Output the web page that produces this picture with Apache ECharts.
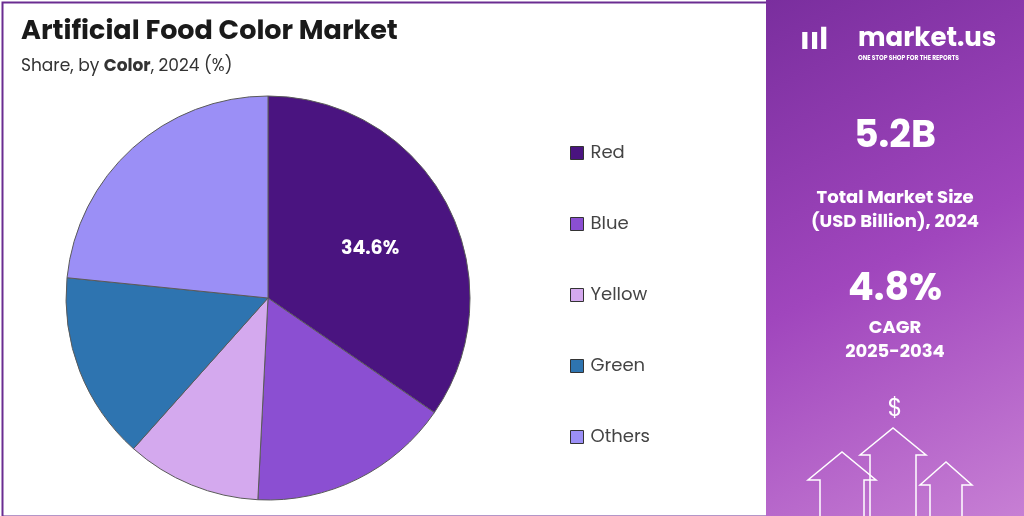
<!DOCTYPE html>
<html><head><meta charset="utf-8">
<script src="https://cdn.jsdelivr.net/npm/echarts@6/dist/echarts.min.js"></script>
<style>html,body{margin:0;padding:0;background:#fff}#c{width:1024px;height:516px}</style>
</head><body><div id="c"></div>
<script>
// 数据
const categories = ['Red', 'Blue', 'Yellow', 'Green', 'Others'];
const shares = [34.6, 16.2, 10.8, 15.0, 23.4];
const colors = ['#4a1480', '#8b4fd2', '#d4a9ee', '#2e74b0', '#9b8ff6'];

const chart = echarts.init(document.getElementById('c'));
const font = 'Poppins, "Open Sans", sans-serif';

chart.setOption({
  animation: false,
  title: {
    text: 'Artificial Food Color Market',
    subtext: '{a|Share, by }{b|Color}{a|, 2024 (%)}',
    left: 16, top: 14, itemGap: 12,
    textStyle: { fontFamily: font, fontSize: 27, fontWeight: 'bold', color: '#1a1a1a' },
    subtextStyle: { rich: {
      a: { fontFamily: font, fontSize: 17, color: '#333' },
      b: { fontFamily: font, fontSize: 17, color: '#333', fontWeight: 'bold' } } }
  },
  legend: {
    orient: 'vertical', left: 565, top: 139, itemGap: 53,
    itemWidth: 13, itemHeight: 13, icon: 'rect',
    data: categories,
    textStyle: { fontFamily: font, fontSize: 18, color: '#444', padding: [0, 0, 0, 2] },
    itemStyle: { borderColor: '#333', borderWidth: 1 }
  },
  series: [{
    type: 'pie', center: [268, 298], radius: 202, startAngle: 90, clockwise: true,
    itemStyle: { borderColor: '#5a5a5a', borderWidth: 1 },
    label: {
      position: 'inside', fontFamily: font, fontSize: 19, fontWeight: 'bold', color: '#fff',
      padding: [12, 0, 0, 20],
      formatter: p => p.dataIndex === 0 ? p.value + '%' : ''
    },
    labelLine: { show: false },
    data: categories.map((n, i) => ({ name: n, value: shares[i], itemStyle: { color: colors[i] } }))
  }],
  graphic: [
    { type: 'rect', left: 0, top: 0, shape: { width: 1022, height: 514 }, style: { fill: 'none', stroke: '#6a2c91', lineWidth: 2 } },
    { type: 'rect', left: 766, top: 0, shape: { width: 258, height: 516 },
      style: { fill: new echarts.graphic.LinearGradient(0, 0, 1, 1, [
        { offset: 0, color: '#7a2e9e' }, { offset: 0.5, color: '#a046bd' }, { offset: 1, color: '#c77fd4' }]) } },
    { type: 'text', left: 800, top: 26, style: { text: 'ııl', fill: '#fff', font: 'bold 30px ' + font } },
    { type: 'text', left: 858, top: 26, style: { text: 'market.us', fill: '#fff', font: 'bold 26px ' + font } },
    { type: 'text', left: 858, top: 55, style: { text: 'ONE STOP SHOP FOR THE REPORTS', fill: '#fff', font: 'bold 6px ' + font } },
    { type: 'text', x: 895, y: 137, style: { text: '5.2B', fill: '#fff', font: 'bold 38px ' + font, align: 'center', verticalAlign: 'middle' } },
    { type: 'text', x: 895, y: 210, style: { text: 'Total Market Size\n(USD Billion), 2024', fill: '#fff', font: 'bold 18px ' + font, align: 'center', verticalAlign: 'middle', lineHeight: 24 } },
    { type: 'text', x: 895, y: 290, style: { text: '4.8%', fill: '#fff', font: 'bold 38px ' + font, align: 'center', verticalAlign: 'middle' } },
    { type: 'text', x: 895, y: 340, style: { text: 'CAGR\n2025-2034', fill: '#fff', font: 'bold 18px ' + font, align: 'center', verticalAlign: 'middle', lineHeight: 24 } },
    { type: 'text', x: 895, y: 410, style: { text: '$', fill: '#fff', font: '24px ' + font, align: 'center', verticalAlign: 'middle' } },
    { type: 'polyline', shape: { points: [[820,516],[820,480],[808,480],[842,452],[876,480],[864,480],[864,516]] }, style: { fill: 'none', stroke: '#fff', lineWidth: 1.5 } },
    { type: 'polyline', shape: { points: [[870,516],[870,455],[860,455],[893,428],[926,455],[916,455],[916,516]] }, style: { fill: 'none', stroke: '#fff', lineWidth: 1.5 } },
    { type: 'polyline', shape: { points: [[930,516],[930,485],[920,485],[946,462],[972,485],[962,485],[962,516]] }, style: { fill: 'none', stroke: '#fff', lineWidth: 1.5 } }
  ]
});
</script></body></html>
